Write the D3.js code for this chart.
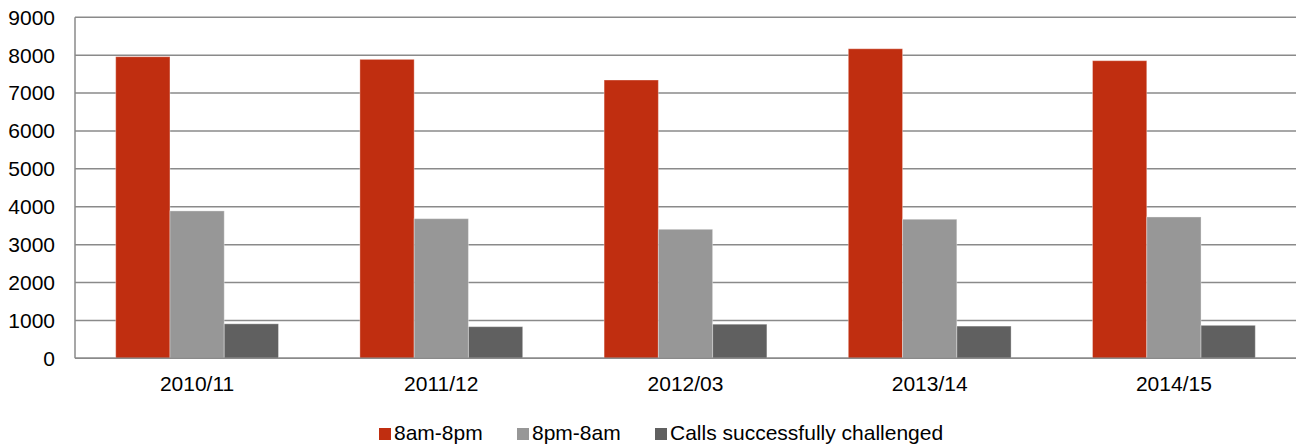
<!DOCTYPE html>
<html>
<head>
<meta charset="utf-8">
<script src="https://cdn.jsdelivr.net/npm/d3@7"></script>
<style>
  html, body { margin: 0; padding: 0; background: #fff; }
  svg { display: block; font-family: "Liberation Sans", Arial, sans-serif; }
</style>
</head>
<body>
<svg id="chart" width="1299" height="444"></svg>
<script>
const categories = ["2010/11", "2011/12", "2012/03", "2013/14", "2014/15"];
const seriesNames = ["8am-8pm", "8pm-8am", "Calls successfully challenged"];
const dayCalls = [7960, 7890, 7345, 8170, 7855];
const nightCalls = [3890, 3685, 3405, 3670, 3730];
const challengedCalls = [910, 835, 900, 850, 870];
const yTicks = [0, 1000, 2000, 3000, 4000, 5000, 6000, 7000, 8000, 9000];
const colors = ["#c02e10", "#979797", "#606060"];

const seriesValues = [dayCalls, nightCalls, challengedCalls];
const svg = d3.select("#chart");
const plotLeft = 75, plotRight = 1296, plotTop = 17.3, plotBottom = 358.3;

const y = d3.scaleLinear().domain([0, 9000]).range([plotBottom, plotTop]);
const x0 = d3.scaleBand().domain(categories).range([plotLeft, plotRight]).paddingInner(1/3).paddingOuter(1/6);
const x1 = d3.scaleBand().domain(d3.range(seriesNames.length)).range([0, x0.bandwidth()]);

// gridlines
svg.append("g").selectAll("line").data(yTicks).join("line")
  .attr("x1", plotLeft).attr("x2", plotRight)
  .attr("y1", d => y(d)).attr("y2", d => y(d))
  .attr("stroke", "#8a8a8a").attr("stroke-width", 1.5);

// left axis line
svg.append("line").attr("x1", plotLeft).attr("x2", plotLeft).attr("y1", y(9000)).attr("y2", y(0))
  .attr("stroke", "#8a8a8a").attr("stroke-width", 1.5);

// y labels
svg.append("g").selectAll("text").data(yTicks).join("text")
  .attr("x", 55).attr("y", d => y(d)).attr("dy", "0.35em")
  .attr("text-anchor", "end").attr("font-size", 21).attr("fill", "#000")
  .text(d => d);

// bars
const groups = svg.append("g").selectAll("g").data(categories).join("g")
  .attr("transform", d => `translate(${x0(d)},0)`);
groups.selectAll("rect").data((c, i) => seriesValues.map((vals, s) => ({ s, v: vals[i] }))).join("rect")
  .attr("x", d => x1(d.s)).attr("width", x1.bandwidth())
  .attr("y", d => y(d.v)).attr("height", d => y(0) - y(d.v))
  .attr("fill", d => colors[d.s])
  .attr("stroke", "#ffffff").attr("stroke-opacity", 0.35).attr("stroke-width", 1);

// bottom axis line over bars
svg.append("line").attr("x1", plotLeft).attr("x2", plotRight).attr("y1", y(0)).attr("y2", y(0))
  .attr("stroke", "#8a8a8a").attr("stroke-width", 1.5);

// category labels
svg.append("g").selectAll("text").data(categories).join("text")
  .attr("x", d => x0(d) + x0.bandwidth() / 2).attr("y", 391)
  .attr("text-anchor", "middle").attr("font-size", 21).attr("fill", "#000")
  .text(d => d);

// legend
const legendX = [379, 517, 655];
const legend = svg.append("g").selectAll("g").data(seriesNames).join("g")
  .attr("transform", (d, i) => `translate(${legendX[i]},0)`);
legend.append("rect").attr("x", 0).attr("y", 428).attr("width", 12).attr("height", 12)
  .attr("fill", (d, i) => colors[i]);
legend.append("text").attr("x", 15).attr("y", 440).attr("font-size", 21).attr("fill", "#000")
  .text(d => d);
</script>
</body>
</html>
